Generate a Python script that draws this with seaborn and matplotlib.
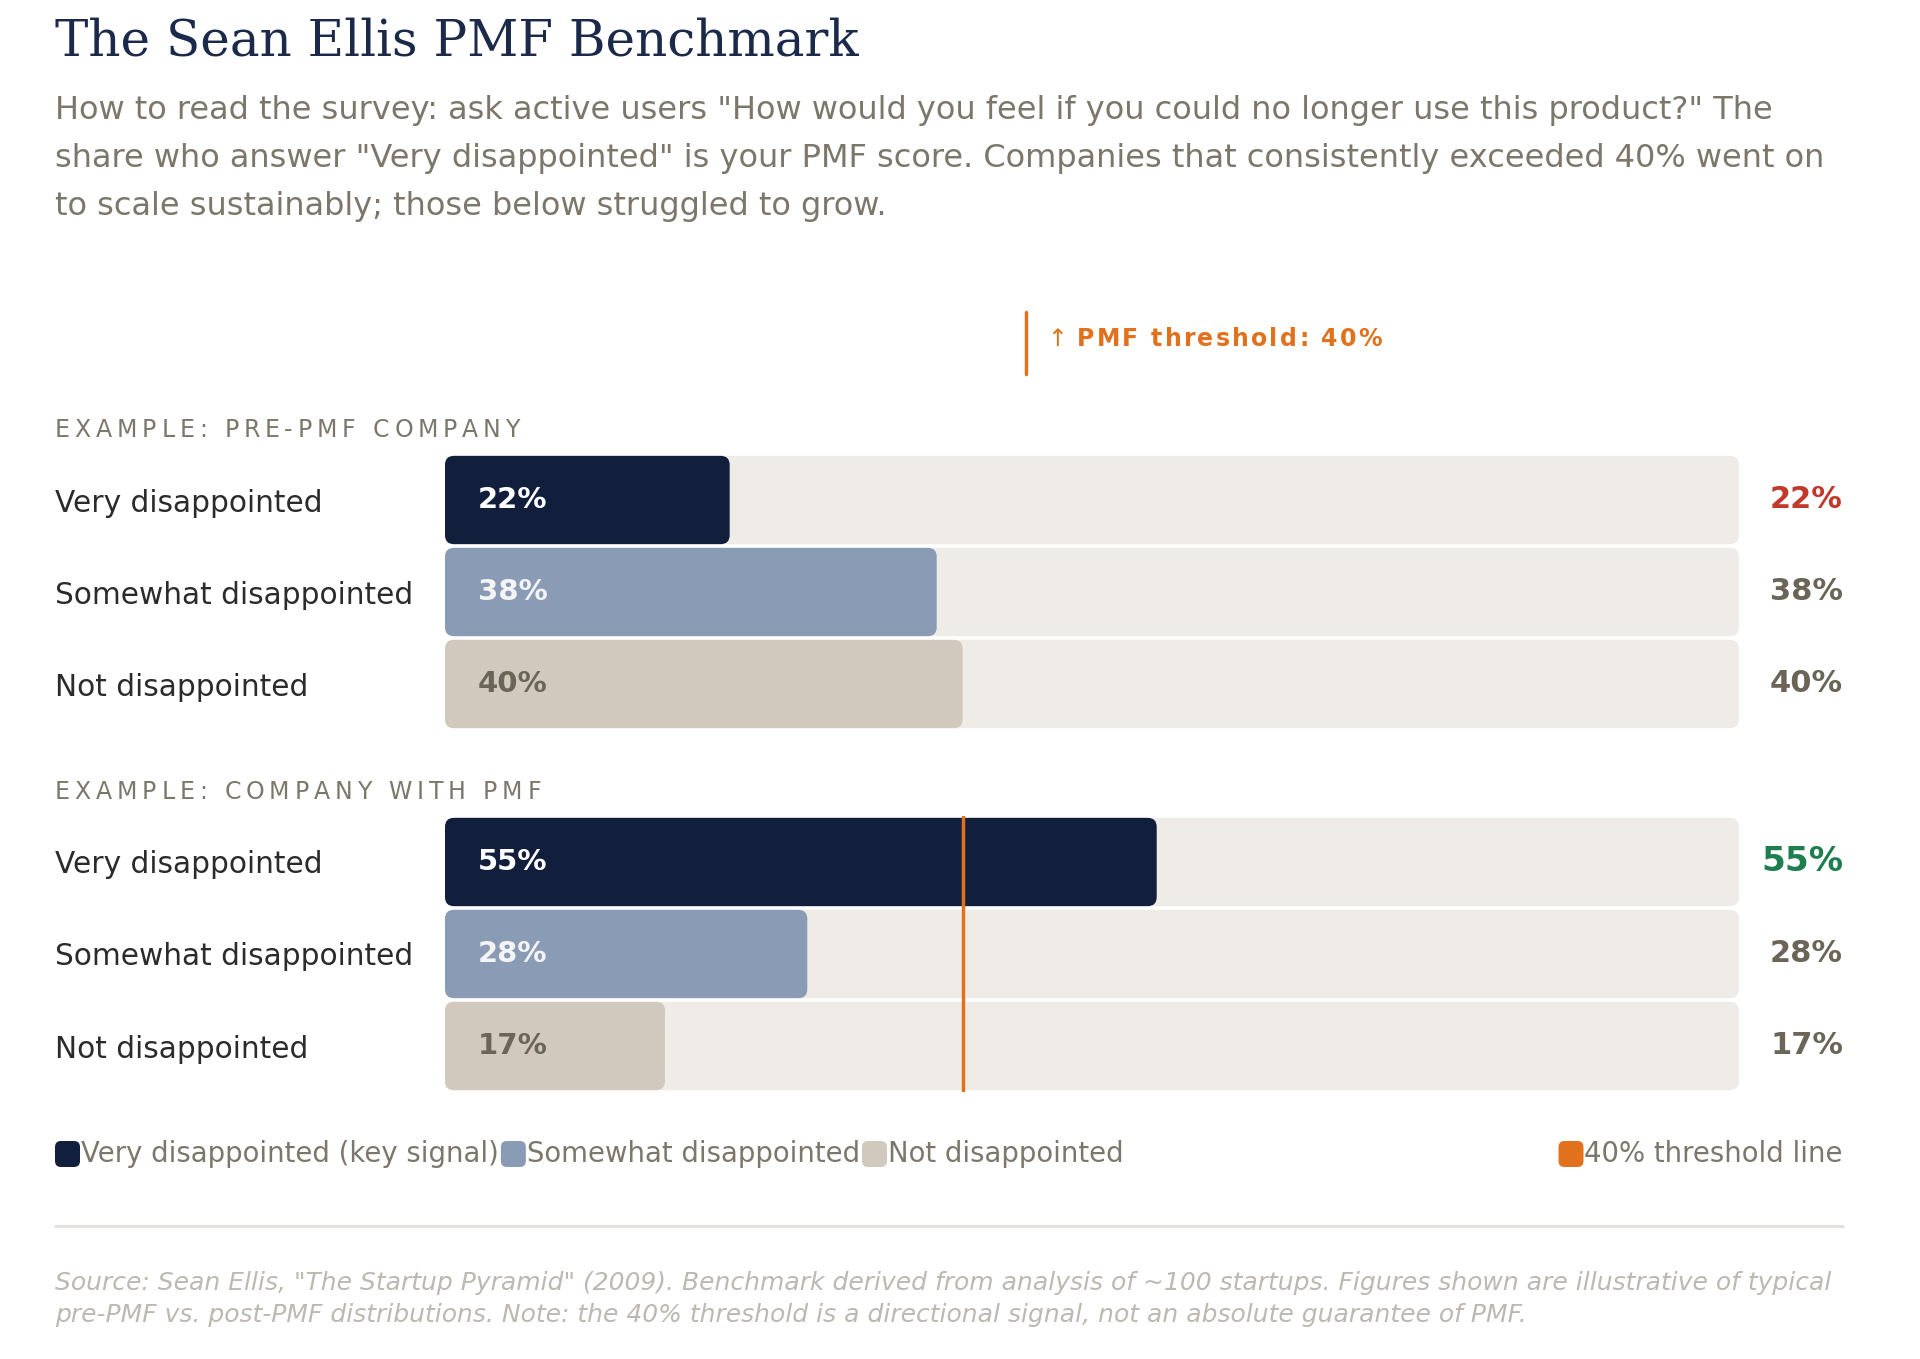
import matplotlib
matplotlib.use("Agg")
import matplotlib.pyplot as plt
import seaborn as sns
from matplotlib.patches import FancyBboxPatch
from matplotlib.lines import Line2D
from matplotlib.transforms import blended_transform_factory, offset_copy, IdentityTransform
from matplotlib.font_manager import FontProperties, findfont
from matplotlib.ft2font import FT2Font

# data
categories = ["Very disappointed", "Somewhat disappointed", "Not disappointed"]
pre_pmf = [22, 38, 40]
with_pmf = [55, 28, 17]
threshold = 40
group_titles = ["EXAMPLE: PRE-PMF COMPANY", "EXAMPLE: COMPANY WITH PMF"]
legend_labels = ["Very disappointed (key signal)", "Somewhat disappointed", "Not disappointed"]
threshold_label = "40% threshold line"

title = "The Sean Ellis PMF Benchmark"
subtitle = [
    'How to read the survey: ask active users "How would you feel if you could no longer use this product?" The',
    'share who answer "Very disappointed" is your PMF score. Companies that consistently exceeded 40% went on',
    "to scale sustainably; those below struggled to grow.",
]
source = [
    'Source: Sean Ellis, "The Startup Pyramid" (2009). Benchmark derived from analysis of ~100 startups. Figures shown are illustrative of typical',
    "pre-PMF vs. post-PMF distributions. Note: the 40% threshold is a directional signal, not an absolute guarantee of PMF.",
]

# colours
NAVY = "#111f3d"
SLATE = "#8a9cb5"
BEIGE = "#d1c9bd"
TRACK = "#efece7"
ORANGE = "#e2711d"
RED = "#c0392b"
GREEN = "#1e7e4e"
MUTED = "#6b6558"
SUB = "#7d776b"
bar_colors = [NAVY, SLATE, BEIGE]
inbar_text = ["white", "#f4f4f4", MUTED]

W, H = 1920, 1359

def fx(px):
    return px / W

def fy(py):
    return 1 - py / H

sns.set_theme(style="white")
plt.rcParams["font.family"] = ["DejaVu Sans"]

fig = plt.figure(figsize=(W / 100, H / 100), dpi=100)
fig.patch.set_facecolor("white")


def advances(s, size, weight="normal"):
    font = FT2Font(findfont(FontProperties(family="DejaVu Sans", weight=weight)))
    font.set_size(size, 100)
    return [font.load_char(ord(c)).linearHoriAdvance / 65536 for c in s]


def tracked_text(x, baseline, s, size, tracking, weight="normal", color="black"):
    # letter-spaced text, one glyph at a time
    for c, adv in zip(s, advances(s, size, weight)):
        fig.text(fx(x), fy(baseline), c, fontsize=size, fontweight=weight, color=color, va="baseline")
        x += adv + tracking
    return x


# title + subtitle
fig.text(fx(55), fy(56), title, family="DejaVu Serif", fontsize=36, color="#1b2a4a", va="baseline")
for i, line in enumerate(subtitle):
    fig.text(fx(55), fy(110 + i * 48.5), line, fontsize=23, color=SUB, va="center")

# threshold note above the chart
fig.add_artist(Line2D([fx(1026), fx(1026)], [fy(312), fy(374)], transform=fig.transFigure,
                      color=ORANGE, lw=2.5))
fig.text(fx(1047), fy(346), "\u2191", fontsize=17, color=ORANGE, va="baseline")
note = "PMF threshold: 40%"
note_adv = advances(note, 17, "bold")
tracked_text(1077, 346, note, 17, (305 - sum(note_adv)) / (len(note) - 1), "bold", ORANGE)

TRACK_L, TRACK_R = 445, 1739
ROW = 92
LABEL_X, VALUE_X = 55, 1843
HEAD_SIZE = 17
head_track = (465 - sum(advances(group_titles[0], HEAD_SIZE))) / (len(group_titles[0]) - 1)


def round_bars(ax, radius_px, ppx, ppy):
    # swap seaborn's rectangles for rounded ones
    for p in list(ax.patches):
        x, y, w, h = p.get_x(), p.get_y(), p.get_width(), p.get_height()
        fc = p.get_facecolor()
        z = p.get_zorder()
        p.remove()
        ax.add_patch(FancyBboxPatch((x, y), w, h,
                                    boxstyle=f"round,pad=0,rounding_size={radius_px / ppx}",
                                    mutation_aspect=ppx / ppy, fc=fc, ec="none", zorder=z))


def draw_group(values, first_center, heading, heading_y, show_line):
    top = first_center - ROW / 2
    bottom = top + ROW * len(categories)
    ax = fig.add_axes([fx(TRACK_L), fy(bottom), fx(TRACK_R) - fx(TRACK_L), (bottom - top) / H])
    sns.barplot(x=[100] * len(categories), y=categories, color=TRACK, width=0.96,
                saturation=1, orient="h", ax=ax)
    sns.barplot(x=values, y=categories, hue=categories, palette=bar_colors, width=0.96,
                saturation=1, orient="h", legend=False, ax=ax)
    ax.set_xlim(0, 100)
    ax.set_ylim(len(categories) - 0.5, -0.5)
    ax.axis("off")
    round_bars(ax, 9, (TRACK_R - TRACK_L) / 100, ROW)

    if show_line:
        ax.axvline(threshold, color=ORANGE, lw=2.5, zorder=5)

    tracked_text(LABEL_X, heading_y + 8.8, heading, HEAD_SIZE, head_track, color=SUB)

    lab_tr = blended_transform_factory(fig.transFigure, ax.transData)
    inbar_tr = offset_copy(ax.transData, fig=fig, x=33, y=0, units="dots")
    for i, (cat, v) in enumerate(zip(categories, values)):
        ax.text(fx(LABEL_X), i, cat, transform=lab_tr, fontsize=21.3, color="#2b2b2b",
                va="center_baseline", ha="left")
        ax.text(0, i, f"{v}%", transform=inbar_tr, fontsize=21, fontweight="bold",
                color=inbar_text[i], va="center", ha="left", zorder=6)
        if i == 0:
            col = GREEN if v >= threshold else RED
            size = 24.7 if v >= threshold else 22
        else:
            col, size = MUTED, 22
        ax.text(fx(VALUE_X), i, f"{v}%", transform=lab_tr, fontsize=size, fontweight="bold",
                color=col, va="center", ha="right")
    return ax


draw_group(pre_pmf, 500, group_titles[0], 428.6, False)
draw_group(with_pmf, 862, group_titles[1], 790, True)

# legend, laid out by hand so the items sit flush like the original
renderer = fig.canvas.get_renderer()
LEG_Y = 1154


def legend_box(x, color):
    fig.add_artist(FancyBboxPatch((x, H - LEG_Y - 13), 25, 26,
                                  boxstyle="round,pad=0,rounding_size=6",
                                  transform=IdentityTransform(), fc=color, ec="none"))


x = LABEL_X
for lab, col in zip(legend_labels, bar_colors):
    legend_box(x, col)
    t = fig.text(fx(x + 26), fy(LEG_Y), lab, fontsize=19.8, color=SUB, va="center")
    x = t.get_window_extent(renderer).x1 + 2

t = fig.text(fx(VALUE_X), fy(LEG_Y), threshold_label, fontsize=19.8, color=SUB, va="center", ha="right")
legend_box(t.get_window_extent(renderer).x0 - 26, ORANGE)

# rule and source
fig.add_artist(Line2D([fx(LABEL_X), fx(VALUE_X)], [fy(1226), fy(1226)], transform=fig.transFigure,
                      color="#e3e0da", lw=2))
for i, line in enumerate(source):
    fig.text(fx(LABEL_X), fy(1283 + i * 32), line, fontsize=18, style="italic", color="#bdb8b0", va="center")

fig.savefig("out.png", dpi=100, facecolor="white")
